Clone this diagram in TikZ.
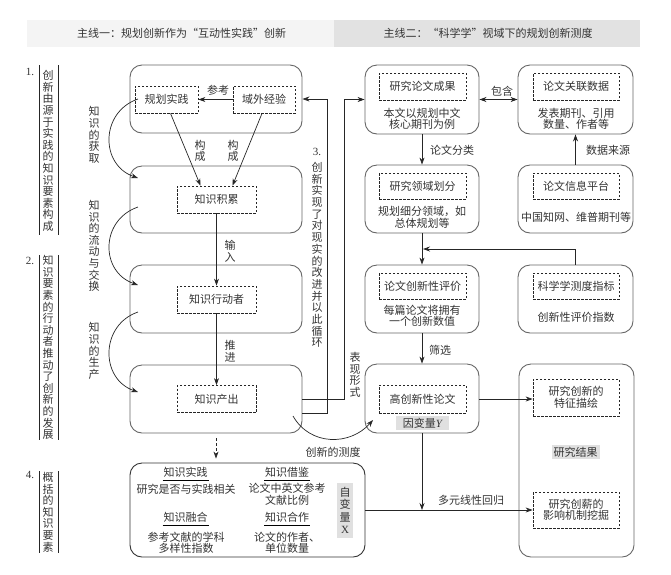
\documentclass[tikz,border=0pt]{standalone}
\usepackage{fontspec}
\setmainfont{Noto Sans CJK SC}
\newfontfamily\latfont{Liberation Serif}
\usetikzlibrary{arrows.meta,calc}
\definecolor{txt}{HTML}{333333}
\definecolor{bord}{HTML}{666666}
\definecolor{hdrA}{HTML}{F4F4F4}
\definecolor{hdrB}{HTML}{E2E2E2}
\definecolor{lab}{HTML}{E0E0E0}
\begin{document}
\begin{tikzpicture}[x=1pt,y=-1pt,
  every node/.style={text=txt,font=\fontsize{11}{11.5}\selectfont,inner sep=0pt},
  rbox/.style={draw=bord,line width=0.9pt,rounded corners=12pt},
  dbox/.style={draw=black!85,line width=0.8pt,dash pattern=on 2.5pt off 1.5pt,align=center},
  vt/.style={align=center,font=\fontsize{11}{11.6}\selectfont},
  ml/.style={align=center,font=\fontsize{11}{11.5}\selectfont},
  arr/.style={-{Stealth[length=7pt,width=5pt]},line width=0.7pt,draw=black!85},
  dblarr/.style={{Stealth[length=7pt,width=5pt]}-{Stealth[length=7pt,width=5pt]},line width=0.7pt,draw=black!85},
  glabel/.style={fill=lab,inner sep=2pt},
  vline/.style={line width=0.9pt,draw=black!85}]
\useasboundingbox (0,0) rectangle (671,574);

% header
\fill[hdrA] (27,20) rectangle (334,47);
\fill[hdrB] (334,20) rectangle (640,47);
\node (h1) at (181.5,33.5) {主线一：规划创新作为“互动性实践”创新};
\node (h2) at (488,33.5) {主线二：“科学学”视域下的规划创新测度};

% left column labels
\node (n1) at (30,72) {\latfont 1.};
\draw[vline] (39,65) -- (39,235);
\draw[vline] (58,65) -- (58,235);
\node[vt] (l1) at (48,151) {创\\新\\由\\源\\于\\实\\践\\的\\知\\识\\要\\素\\构\\成};
\node (n2) at (30,261) {\latfont 2.};
\draw[vline] (39,255) -- (39,440);
\draw[vline] (58,255) -- (58,440);
\node[vt] (l2) at (48,347.5) {知\\识\\要\\素\\的\\行\\动\\者\\推\\动\\了\\创\\新\\的\\发\\展};
\node (n4) at (30,475) {\latfont 4.};
\draw[vline] (39,471) -- (39,553);
\draw[vline] (58,471) -- (58,553);
\node[vt] (l4) at (48,512) {概\\括\\的\\知\\识\\要\\素};

\node[vt] (p1) at (94,135) {知\\识\\的\\获\\取};
\node[vt] (p2) at (94,246) {知\\识\\的\\流\\动\\与\\交\\换};
\node[vt] (p3) at (94,351) {知\\识\\的\\生\\产};

% left boxes
\node[rbox,minimum width=172,minimum height=68] (A) at (216,99) {};
\node[rbox,minimum width=172,minimum height=67] (B) at (216,199.5) {};
\node[rbox,minimum width=172,minimum height=68] (C) at (216,299) {};
\node[rbox,minimum width=172,minimum height=68] (D) at (216,399) {};
\node[rbox,draw=black!80,minimum width=235,minimum height=94] (E) at (247.5,510) {};

\node[dbox,minimum width=63,minimum height=27] (gh) at (166.5,99.5) {规划实践};
\node[dbox,minimum width=62,minimum height=27] (yw) at (264,99.5) {域外经验};
\node[dbox,minimum width=79,minimum height=27] (zj) at (216.5,199.5) {知识积累};
\node[dbox,minimum width=79,minimum height=27] (xd) at (216.5,299.5) {知识行动者};
\node[dbox,minimum width=79,minimum height=27] (cc) at (216.5,399) {知识产出};

\draw[arr] (yw.west) -- (gh.east);
\node (ck) at (218,90) {参考};
\draw[arr] ([xshift=4pt]gh.south) -- ([xshift=-16pt]zj.north);
\draw[arr] ([xshift=-2pt]yw.south) -- ([xshift=16pt]zj.north);
\node[vt] (gc1) at (200,151) {构\\成};
\node[vt] (gc2) at (233,151) {构\\成};
\draw[arr] (zj.south) -- (xd.north);
\node[vt] (sr) at (230,251) {输\\入};
\draw[arr] (xd.south) -- (cc.north);
\node[vt] (tj) at (230,351) {推\\进};

% left curved arrows
\coordinate (c1a) at (138,99);
\coordinate (c1b) at (138,178);
\coordinate (c2a) at (138,207);
\coordinate (c2b) at (138,285);
\coordinate (c3a) at (138,312);
\coordinate (c3b) at (138,392);
\draw[arr] (c1a) .. controls (100,112) and (100,165) .. (c1b);
\draw[arr] (c2a) .. controls (100,220) and (100,272) .. (c2b);
\draw[arr] (c3a) .. controls (100,325) and (100,379) .. (c3b);

% loop lines
\draw[arr] ([yshift=-14pt]D.east) -| ($(A.east)+(25,0)$) -- (A.east);
\node (n3) at (317,152) {\latfont 3.};
\node[vt,font=\fontsize{11}{11.7}\selectfont] (l3) at (317,255) {创\\新\\实\\现\\了\\对\\现\\实\\的\\改\\进\\并\\以\\此\\循\\环};

% right boxes
\node[rbox,minimum width=114,minimum height=69] (R1) at (422,99.5) {};
\node[rbox,minimum width=115,minimum height=69] (R2) at (575.5,99.5) {};
\node[rbox,minimum width=114,minimum height=68] (R3) at (422,199) {};
\node[rbox,minimum width=115,minimum height=68] (R4) at (575.5,199) {};
\node[rbox,minimum width=114,minimum height=68] (R5) at (422,299) {};
\node[rbox,minimum width=115,minimum height=68] (R6) at (575.5,299) {};
\node[rbox,minimum width=114,minimum height=69] (R7) at (422,398.5) {};
\node[rbox,minimum width=115,minimum height=193] (R8) at (576.5,460.5) {};

\node[dbox,minimum width=87,minimum height=27] (d1) at (422.5,86.5) {研究论文成果};
\node[ml] (t1) at (422,119) {本文以规划中文\\核心期刊为例};
\node[dbox,minimum width=86,minimum height=27] (d2) at (576,86.5) {论文关联数据};
\node[ml] (t2) at (576,119) {发表期刊、引用\\数量、作者等};
\node[dbox,minimum width=87,minimum height=26] (d3) at (422.5,186) {研究领域划分};
\node[ml] (t3) at (422,217.5) {规划细分领域，如\\总体规划等};
\node[dbox,minimum width=86,minimum height=26] (d4) at (576,186) {论文信息平台};
\node (t4) at (576,217) {中国知网、维普期刊等};
\node[dbox,minimum width=87,minimum height=26] (d5) at (422.5,286) {论文创新性评价};
\node[ml] (t5) at (422,316) {每篇论文将拥有\\一个创新数值};
\node[dbox,minimum width=86,minimum height=26] (d6) at (576,286) {科学学测度指标};
\node (t6) at (576,317) {创新性评价指数};
\node[dbox,minimum width=87,minimum height=28] (d7) at (422.5,399) {高创新性论文};
\node[fill=lab,minimum width=53,minimum height=14] (yv) at (422.5,423) {因变量{\latfont\itshape Y}};
\node[dbox,minimum width=86,minimum height=37] (T1) at (576,397.5) {研究创新的\\特征描绘};
\node[glabel] (jg) at (575.5,452) {研究结果};
\node[dbox,minimum width=86,minimum height=36] (T2) at (576,510) {研究创薪的\\影响机制挖掘};

% outer loop to right column
\draw[arr] (D.east) -| ($(R1.west)+(-20,0)$) -- (R1.west);
\node[vt,font=\fontsize{11}{11.5}\selectfont] (bx) at (355,375) {表\\现\\形\\式};

% right connectors
\draw[dblarr] (R1.east) -- (R2.west);
\node (bh) at (502,91) {包含};
\draw[arr] (R1.south) -- (R3.north);
\node (lf) at (452,150) {论文分类};
\draw[arr] (R4.north) -- (R2.south);
\node (sj) at (608,150) {数据来源};
\draw[arr] (R3.south) -- (R5.north);
\draw[arr] (R6.north) |- ($(R3.south)!0.5!(R5.north)+(1,0)$);
\draw[arr] (R5.south) -- (R7.north);
\node (sx) at (440,350) {筛选};
\draw[arr] (R7.east |- d7.east) -- (T1.west |- d7.east);
\draw[arr] (E.east) -- (T2.west);
\draw[arr] (R7.south) -- (R7.south |- E.east);
\node (dy) at (471,500) {多元线性回归};

% dashed arrow down
\draw[arr,dash pattern=on 3pt off 2pt] ([yshift=-5pt]D.south) -- ([yshift=4pt]D.south |- E.north);

% measure curve
\coordinate (m0) at (293,416);
\coordinate (m1) at (373,420);
\draw[arr] (m0) .. controls (310,446) and (350,446) .. (m1);
\node (cd) at (333,452.5) {创新的测度};

% box E content
\node (k1) at (185.5,472) {知识实践};
\draw[line width=0.7pt] ($(k1.center)+(-23,8)$) -- ($(k1.center)+(23,8)$);
\node (e1) at (186,489) {研究是否与实践相关};
\node (k2) at (287,472) {知识借鉴};
\draw[line width=0.7pt] ($(k2.center)+(-23,8)$) -- ($(k2.center)+(23,8)$);
\node[ml] (e2) at (287,494.5) {论文中英文参考\\文献比例};
\node (k3) at (185.5,517) {知识融合};
\draw[line width=0.7pt] ($(k3.center)+(-23,8)$) -- ($(k3.center)+(23,8)$);
\node[ml] (e3) at (186,543) {参考文献的学科\\多样性指数};
\node (k4) at (287,517) {知识合作};
\draw[line width=0.7pt] ($(k4.center)+(-23,8)$) -- ($(k4.center)+(23,8)$);
\node[ml] (e4) at (287,543) {论文的作者、\\单位数量};
\node[fill=lab,minimum width=16,minimum height=55,align=center,font=\fontsize{11}{12.3}\selectfont] (zb) at (345,510.5) {自\\变\\量\\{\latfont X}};
\end{tikzpicture}
\end{document}
